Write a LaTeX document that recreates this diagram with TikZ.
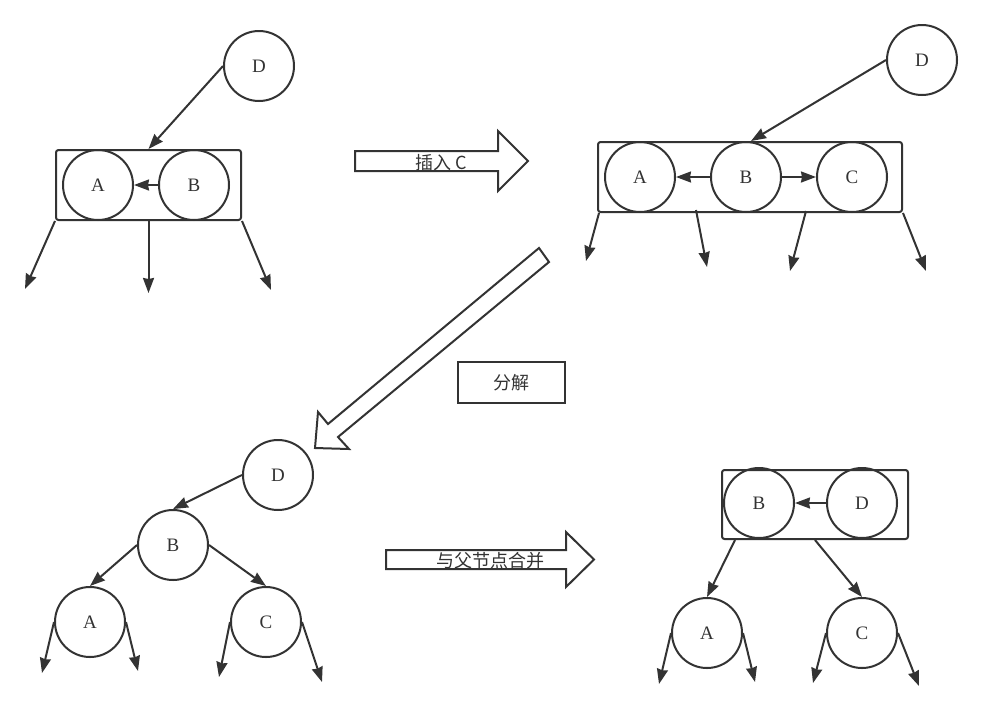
\documentclass[tikz,border=0pt]{standalone}
\usepackage{fontspec}
\setmainfont{Liberation Serif}
\newfontfamily\cjk{Noto Sans CJK SC}
\usetikzlibrary{arrows.meta,calc,positioning}
\definecolor{ink}{RGB}{51,51,51}

\begin{document}
\begin{tikzpicture}[x=1pt,y=-1pt,>={Stealth[length=15pt,width=11pt,inset=1pt]},
  link/.style={draw=ink,line width=2pt,->},
  key/.style={circle,draw=ink,line width=2pt,minimum size=70pt,inner sep=0pt,font=\fontsize{19}{21}\selectfont,text=ink},
  grp/.style={rectangle,draw=ink,line width=2pt,rounded corners=2.5pt,minimum height=70pt,inner sep=0pt},
  blk/.style={draw=ink,line width=2pt,fill=white,line join=miter},
  lbl/.style={font=\cjk\fontsize{18}{20}\selectfont,text=ink,inner sep=0pt}]
  \useasboundingbox (0,0) rectangle (982,710);

  % before insert
  \node[grp,minimum width=185pt] (g1) at (148.5,185) {};
  \node[key] (d1) at (259,66) {D};
  \node[key] (a1) at (98,185) {A};
  \node[key] (b1) at (194,185) {B};
  \coordinate (e11) at (25,289);
  \coordinate (e12) at (148.5,293);
  \coordinate (e13) at (271,290);
  \draw[link] (d1.west) -- (g1.north);
  \draw[link] (b1) -- (a1);
  \draw[link] (g1.south west) -- (e11);
  \draw[link] (g1.south) -- (e12);
  \draw[link] (g1.south east) -- (e13);

  % insert arrow
  \draw[blk] (355,151) -- (498,151) -- (498,131) -- (528,161) -- (498,191) -- (498,171) -- (355,171) -- cycle;
  \node[lbl] (ins) at (441,163) {插入 C};

  % after insert
  \node[grp,minimum width=304pt] (g2) at (750,177) {};
  \node[key] (d2) at (922,60) {D};
  \node[key] (a2) at (640,177) {A};
  \node[key] (b2) at (746,177) {B};
  \node[key] (c2) at (852,177) {C};
  \coordinate (e21) at (586,261);
  \coordinate (e22) at (707,267);
  \coordinate (e23) at (790,271);
  \coordinate (e24) at (926,271);
  \draw[link] (d2.west) -- ($(g2.north)+(1,0)$);
  \draw[link] (b2) -- (a2);
  \draw[link] (b2) -- (c2);
  \draw[link] ($(g2.south west)+(2,0)$) -- (e21);
  \draw[link] ($(g2.south)+(-54,-3)$) -- (e22);
  \draw[link] ($(g2.south)+(56,-2)$) -- (e23);
  \draw[link] (g2.south east) -- (e24);

  % split arrow
  \draw[blk] (539,248) -- (549,262) -- (338,437) -- (349,449) -- (315,448) -- (318,412) -- (328,424) -- cycle;
  \node[lbl,draw=ink,line width=2pt,minimum width=107pt,minimum height=41pt] (split) at (511.5,382.5) {分解};

  % split tree
  \node[key] (d3) at (278,475) {D};
  \node[key] (b3) at (173,545) {B};
  \node[key] (a3) at (90,622) {A};
  \node[key] (c3) at (266,622) {C};
  \coordinate (e31) at (42,673);
  \coordinate (e32) at (138,671);
  \coordinate (e33) at (219,677);
  \coordinate (e34) at (322,682);
  \draw[link] (d3.west) -- (b3.north);
  \draw[link] (b3.west) -- (a3.north);
  \draw[link] (b3.east) -- (c3.north);
  \draw[link] (a3.west) -- (e31);
  \draw[link] (a3.east) -- (e32);
  \draw[link] (c3.west) -- (e33);
  \draw[link] (c3.east) -- (e34);

  % merge arrow
  \draw[blk] (386,550) -- (566,550) -- (566,532) -- (594,559.5) -- (566,587) -- (566,569) -- (386,569) -- cycle;
  \node[lbl] (mrg) at (490,561) {与父节点合并};

  % merged
  \node[grp,minimum width=186pt,minimum height=69pt] (g4) at (815,504.5) {};
  \node[key] (b4) at (759,503) {B};
  \node[key] (d4) at (862,503) {D};
  \node[key] (a4) at (707,633) {A};
  \node[key] (c4) at (862,633) {C};
  \coordinate (e41) at (659,684);
  \coordinate (e42) at (755,682);
  \coordinate (e43) at (813,683);
  \coordinate (e44) at (919,686);
  \draw[link] (d4) -- (b4);
  \draw[link] ($(g4.south west)+(14,0)$) -- (a4.north);
  \draw[link] (g4.south) -- (c4.north);
  \draw[link] (a4.west) -- (e41);
  \draw[link] (a4.east) -- (e42);
  \draw[link] (c4.west) -- (e43);
  \draw[link] (c4.east) -- (e44);
\end{tikzpicture}
\end{document}
